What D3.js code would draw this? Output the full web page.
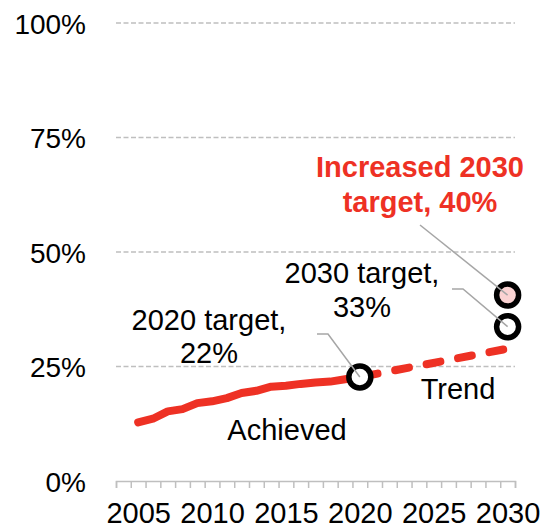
<!DOCTYPE html>
<html>
<head>
<meta charset="utf-8">
<script src="https://cdn.jsdelivr.net/npm/d3@7"></script>
<style>
  html, body { margin: 0; padding: 0; background: #fff; }
  svg { display: block; font-family: "Liberation Sans", Arial, sans-serif; }
</style>
</head>
<body>
<svg id="chart" width="541" height="528"></svg>
<script>
// ---- data ----
const achievedYears  = [2005, 2006, 2007, 2008, 2009, 2010, 2011, 2012, 2013, 2014, 2015, 2016, 2017, 2018, 2019, 2020];
const achievedValues = [12.8, 13.6, 15.2, 15.7, 17.0, 17.4, 18.1, 19.2, 19.7, 20.6, 20.8, 21.2, 21.5, 21.7, 22.2, 22.7];
const trendYears  = [2020, 2030];
const trendValues = [22.7, 28.9];
const targetYears  = [2020, 2030, 2030];
const targetValues = [22.7, 33.7, 40.6];
const targetKinds  = ["plain", "plain", "increased"];
const yTicks = [0, 25, 50, 75, 100];
const xLabelYears = [2005, 2010, 2015, 2020, 2025, 2030];
const firstCategory = 2004, lastCategory = 2030;

// ---- setup ----
const svg = d3.select("#chart");
const RED = "#ee3124";
const GRID = "#bfbfbf";

const x = d3.scaleLinear().domain([firstCategory - 0.5, lastCategory + 0.5]).range([116, 515]);
const y = d3.scaleLinear().domain([0, 100]).range([481, 23]);

// gridlines
svg.append("g").selectAll("line").data(yTicks.filter(d => d > 0)).join("line")
  .attr("x1", x.range()[0]).attr("x2", x.range()[1])
  .attr("y1", d => y(d)).attr("y2", d => y(d))
  .attr("stroke", GRID).attr("stroke-width", 1.3).attr("stroke-dasharray", "5,2.5");

// y labels
const yAxis = svg.append("g").attr("transform", "translate(116,0)")
  .call(d3.axisLeft(y).tickValues(yTicks).tickSize(0).tickPadding(30).tickFormat(d => d + "%"));
yAxis.select(".domain").remove();
yAxis.selectAll("text").attr("font-size", 28).attr("fill", "#000")
  .attr("font-family", "Liberation Sans, Arial, sans-serif").attr("dy", "0.36em");

// x axis: boundary ticks
const boundaries = d3.range(firstCategory - 0.5, lastCategory + 1, 1);
const xTickAxis = svg.append("g").attr("transform", `translate(0,${y(0)})`)
  .call(d3.axisBottom(x).tickValues(boundaries).tickSize(7).tickFormat(""));
xTickAxis.select(".domain").attr("stroke", GRID).attr("stroke-width", 1.5);
xTickAxis.selectAll(".tick line").attr("stroke", GRID).attr("stroke-width", 1.5);

// x labels
const xLab = svg.append("g").attr("transform", `translate(0,${y(0)})`)
  .call(d3.axisBottom(x).tickValues(xLabelYears).tickSize(0).tickFormat(d3.format("d")));
xLab.select(".domain").remove();
xLab.selectAll("text").attr("font-size", 29).attr("fill", "#000")
  .attr("font-family", "Liberation Sans, Arial, sans-serif").attr("y", 42).attr("dy", 0);

// lines
const line = d3.line().x(d => x(d[0])).y(d => y(d[1]));
svg.append("path").datum(d3.zip(trendYears, trendValues))
  .attr("d", line).attr("fill", "none").attr("stroke", RED).attr("stroke-width", 8)
  .attr("stroke-linecap", "round").attr("stroke-dasharray", "14,18").attr("stroke-dashoffset", 28);
svg.append("path").datum(d3.zip(achievedYears, achievedValues))
  .attr("d", line).attr("fill", "none").attr("stroke", RED).attr("stroke-width", 8)
  .attr("stroke-linecap", "round").attr("stroke-linejoin", "round");

// target circles
const targets = targetYears.map((yr, i) => ({ year: yr, value: targetValues[i], kind: targetKinds[i] }));
svg.append("g").selectAll("circle").data(targets).join("circle")
  .attr("cx", d => x(d.year)).attr("cy", d => y(d.value)).attr("r", 11)
  .attr("fill", d => d.kind === "increased" ? "#fad2d2" : "#fff")
  .attr("stroke", "#000").attr("stroke-width", 5.5);

// leader lines
const leaders = [
  { pts: [[420, 225]], t: targets[2] },
  { pts: [[452, 289], [463, 289]], t: targets[1] },
  { pts: [[317, 334], [328, 334]], t: targets[0] }
];
leaders.forEach(l => {
  const pts = l.pts.concat([[x(l.t.year), y(l.t.value)]]);
  svg.append("path").attr("d", d3.line()(pts)).attr("fill", "none")
    .attr("stroke", "#a6a6a6").attr("stroke-width", 1.5);
});

// annotations
function label(lines, cx, baseline, opts = {}) {
  const t = svg.append("text").attr("text-anchor", "middle").attr("font-size", opts.size || 29)
    .attr("fill", opts.color || "#000").attr("font-weight", opts.bold ? "bold" : "normal");
  lines.forEach((s, i) => {
    t.append("tspan").attr("x", cx).attr("y", baseline + i * (opts.lh || 34)).text(s);
  });
}
label(["Increased 2030", "target, 40%"], 420, 177, { color: RED, bold: true, lh: 35 });
label(["2030 target,", "33%"], 362, 283, { lh: 34 });
label(["2020 target,", "22%"], 209, 330, { lh: 33 });
label(["Achieved"], 287, 440);
label(["Trend"], 458, 399);
</script>
</body>
</html>
